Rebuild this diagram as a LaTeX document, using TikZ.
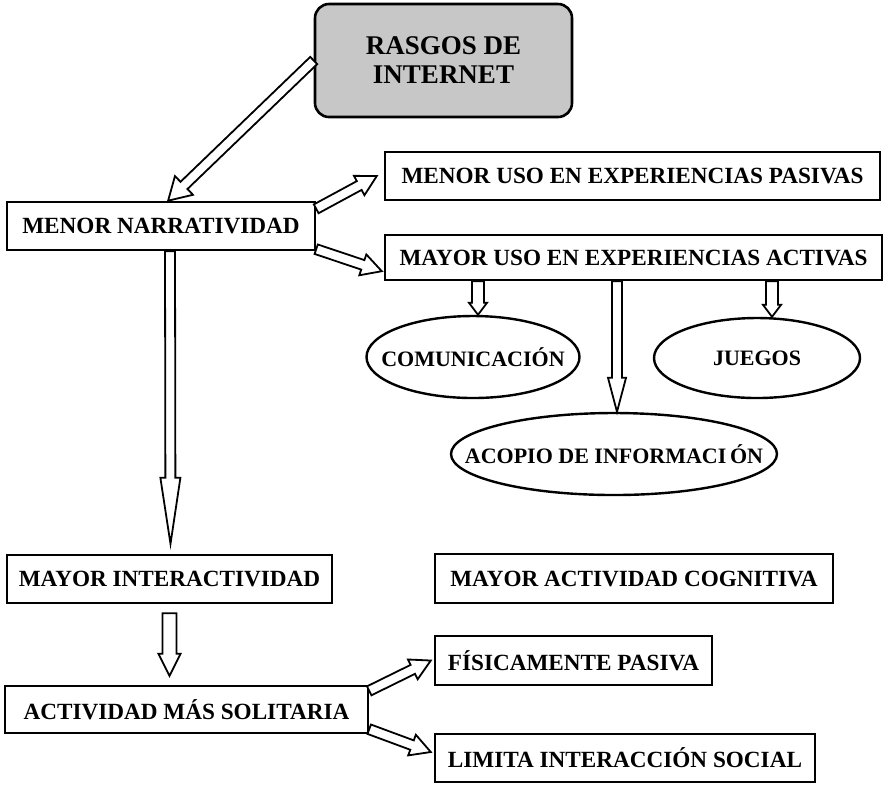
\documentclass[tikz,border=0pt]{standalone}
\usepackage{fontspec}
\setmainfont{Liberation Serif}
\usetikzlibrary{shapes.geometric,calc}
\tikzset{
box/.style={draw, line width=1.2pt, rectangle, inner sep=0pt,
  font=\fontsize{11.6}{13}\selectfont\bfseries},
oval/.style={draw, line width=1.2pt, ellipse, inner sep=0pt},
ovaltext/.style={font=\fontsize{11}{13}\selectfont\bfseries, inner sep=0pt},
topbox/.style={draw, line width=1.3pt, rounded corners=7pt, fill=black!22,
  align=center, inner sep=0pt, font=\fontsize{13.5}{14.5}\selectfont\bfseries},
fatline/.style={draw, line width=0.9pt, fill=white, line join=miter}
}
% hollow block arrow: from, to, half shaft, head length, half head
\newcommand{\fatarrow}[5]{%
  \draw[fatline] let \p1=(#1), \p2=(#2), \n1={atan2(\y2-\y1,\x2-\x1)},
    \n2={veclen(\x2-\x1,\y2-\y1)} in
    [shift={(\p1)}, rotate=\n1]
    (0pt,-#3) -- ({\n2*1pt-#4},-#3) -- ({\n2*1pt-#4},-#5) -- ({\n2*1pt},0pt)
    -- ({\n2*1pt-#4},#5) -- ({\n2*1pt-#4},#3) -- (0pt,#3) -- cycle;}
\begin{document}
\begin{tikzpicture}[x=0.5pt, y=-0.5pt]
\useasboundingbox (0,0) rectangle (887,784);

\node[topbox, minimum width=128.5pt, minimum height=56.5pt] (rasgos) at (443.5,60.5) {RASGOS DE\\INTERNET};

\node[box, minimum width=154pt, minimum height=24pt] (narr) at (161,226) {MENOR NARRATIVIDAD};
\node[box, minimum width=247.5pt, minimum height=24pt] (pasivas) at (632.5,176) {MENOR USO EN EXPERIENCIAS PASIVAS};
\node[box, minimum width=248.5pt, minimum height=22.5pt] (activas) at (633.5,257.5) {MAYOR USO EN EXPERIENCIAS ACTIVAS};

\node[oval, minimum width=106.5pt, minimum height=41pt, label={[ovaltext]center:COMUNICACIÓN}] (comunic) at (473,357) {};
\node[oval, minimum width=103pt, minimum height=40pt, label={[ovaltext]center:JUEGOS}] (juegos) at (757,358) {};
\node[oval, minimum width=163pt, minimum height=41pt, label={[ovaltext]center:ACOPIO DE INFORMACI\,ÓN}] (acopio) at (614,454) {};

\node[box, minimum width=162.5pt, minimum height=24pt] (interact) at (169.5,579) {MAYOR INTERACTIVIDAD};
\node[box, minimum width=199pt, minimum height=24.5pt] (cognitiva) at (634,578.5) {MAYOR ACTIVIDAD COGNITIVA};
\node[box, minimum width=138.5pt, minimum height=24.5pt] (fisica) at (573.5,660.5) {FÍSICAMENTE PASIVA};
\node[box, minimum width=181.5pt, minimum height=23.5pt] (solitaria) at (186.5,709.5) {ACTIVIDAD MÁS SOLITARIA};
\node[box, minimum width=190pt, minimum height=24pt] (limita) at (625,758) {LIMITA INTERACCIÓN SOCIAL};

% arrows
\fatarrow{rasgos.west}{[xshift=3.5pt]narr.north}{2.5pt}{11pt}{6.5pt}
\fatarrow{[yshift=-4pt]narr.north east}{[xshift=-3.5pt]pasivas.west}{2.5pt}{10pt}{5.5pt}
\fatarrow{[yshift=1pt]narr.south east}{[xshift=-1pt,yshift=5pt]activas.south west}{2.5pt}{10pt}{5.5pt}
\fatarrow{[xshift=4.5pt]narr.south}{[xshift=0.5pt,yshift=5pt]interact.north}{2.5pt}{33pt}{5pt}

\fatarrow{$(comunic.north |- activas.south)+(2.5pt,0)$}{[xshift=2.5pt]comunic.north}{3pt}{6pt}{4.5pt}
\fatarrow{$(acopio.north |- activas.south)+(1.5pt,0)$}{[xshift=1.5pt]acopio.north}{2.5pt}{17pt}{4.5pt}
\fatarrow{$(juegos.north |- activas.south)+(7.5pt,0)$}{[xshift=7.5pt]juegos.north}{3pt}{6pt}{4.5pt}

\fatarrow{[yshift=-4.5pt]interact.south}{$(interact.south |- solitaria.north)+(0,4.5pt)$}{3.5pt}{11pt}{5.5pt}
\fatarrow{[yshift=-3pt]solitaria.north east}{[xshift=-1.5pt]fisica.west}{2.5pt}{10pt}{5.5pt}
\fatarrow{[yshift=2.5pt]solitaria.south east}{[xshift=-1.5pt,yshift=3pt]limita.west}{2.5pt}{10pt}{5.5pt}
\end{tikzpicture}
\end{document}
